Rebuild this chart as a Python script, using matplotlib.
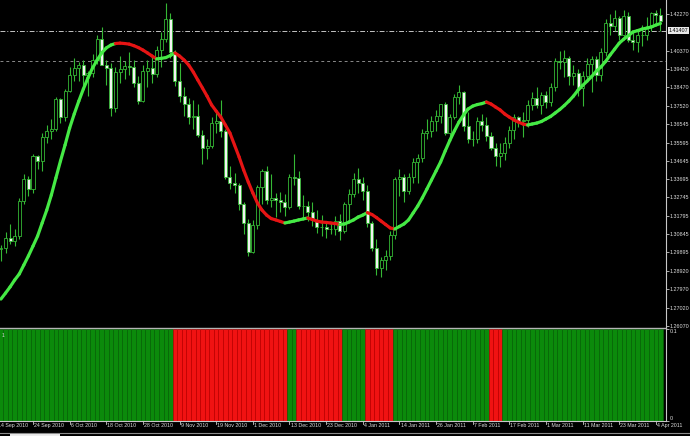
import matplotlib
matplotlib.use("Agg")
import matplotlib.pyplot as plt
import matplotlib.transforms as mtransforms
from matplotlib.collections import LineCollection
from matplotlib.patches import Rectangle
from matplotlib.lines import Line2D
import numpy as np

plt.rcParams['font.family'] = ['Liberation Sans', 'DejaVu Sans']

# ---------------- data (EURUSD daily, 15 Sep 2010 .. 5 Apr 2011) ----------------
OPEN = [1.3005,1.3010,1.3065,1.3050,1.3075,1.3255,1.3370,1.3320,1.3490,1.3465,
        1.3590,1.3620,1.3630,1.3785,1.3690,1.3830,1.3910,1.3945,1.3960,1.3910,
        1.3920,1.3990,1.4100,1.3965,1.3945,1.3740,1.3925,1.3940,1.3955,1.3950,
        1.3870,1.3775,1.3930,1.3945,1.3915,1.4040,1.4100,1.4200,1.4030,1.3880,
        1.3800,1.3760,1.3690,1.3700,1.3600,1.3530,1.3540,1.3660,1.3670,1.3620,
        1.3380,1.3350,1.3340,1.3240,1.3140,1.2990,1.3130,1.3330,1.3410,1.3260,
        1.3270,1.3260,1.3250,1.3225,1.3380,1.3375,1.3230,1.3230,1.3200,1.3160,
        1.3120,1.3120,1.3110,1.3110,1.3150,1.3100,1.3240,1.3290,1.3370,1.3350,
        1.3310,1.3140,1.3010,1.2910,1.2950,1.2970,1.3080,1.3370,1.3380,1.3310,
        1.3380,1.3460,1.3480,1.3610,1.3620,1.3670,1.3700,1.3760,1.3610,1.3695,
        1.3795,1.3820,1.3645,1.3580,1.3580,1.3670,1.3650,1.3595,1.3530,1.3490,
        1.3505,1.3560,1.3625,1.3695,1.3670,1.3675,1.3755,1.3790,1.3755,1.3805,
        1.3770,1.3850,1.3985,1.3980,1.4000,1.3905,1.3920,1.3845,1.3905,1.3970,
        1.3995,1.3910,1.4030,1.4180,1.4165,1.4205,1.4120,1.4215,1.4090,1.4080,
        1.4120,1.4120,1.4160,1.4230,1.4220]
HIGH = [1.3030,1.3095,1.3135,1.3110,1.3270,1.3395,1.3385,1.3500,1.3495,1.3610,
        1.3650,1.3680,1.3795,1.3790,1.3840,1.3950,1.4000,1.3980,1.3990,1.3930,
        1.4020,1.4120,1.4160,1.3990,1.3975,1.3950,1.4010,1.3985,1.4030,1.3990,
        1.3905,1.3960,1.3990,1.4010,1.4060,1.4135,1.4282,1.4230,1.4040,1.3975,
        1.3850,1.3790,1.3780,1.3760,1.3625,1.3580,1.3690,1.3720,1.3780,1.3630,
        1.3440,1.3400,1.3350,1.3250,1.3165,1.3160,1.3340,1.3420,1.3440,1.3395,
        1.3300,1.3305,1.3290,1.3395,1.3500,1.3410,1.3285,1.3255,1.3250,1.3210,
        1.3185,1.3150,1.3140,1.3180,1.3190,1.3250,1.3320,1.3400,1.3430,1.3380,
        1.3340,1.3150,1.3060,1.2965,1.3000,1.3100,1.3380,1.3420,1.3395,1.3400,
        1.3480,1.3500,1.3630,1.3680,1.3700,1.3730,1.3760,1.3770,1.3710,1.3810,
        1.3860,1.3830,1.3720,1.3620,1.3690,1.3710,1.3695,1.3615,1.3555,1.3560,
        1.3590,1.3645,1.3710,1.3700,1.3720,1.3780,1.3820,1.3850,1.3820,1.3830,
        1.3870,1.4000,1.4035,1.4040,1.4010,1.3960,1.3940,1.3930,1.4000,1.4010,
        1.4010,1.4050,1.4200,1.4225,1.4250,1.4215,1.4250,1.4240,1.4140,1.4150,
        1.4170,1.4210,1.4240,1.4250,1.4260]
LOW = [1.2945,1.2985,1.3035,1.3020,1.3060,1.3240,1.3280,1.3300,1.3420,1.3410,
       1.3560,1.3580,1.3620,1.3660,1.3670,1.3820,1.3880,1.3880,1.3855,1.3800,
       1.3900,1.3970,1.3960,1.3860,1.3700,1.3720,1.3870,1.3890,1.3910,1.3850,
       1.3760,1.3770,1.3850,1.3870,1.3900,1.3950,1.4080,1.4000,1.3855,1.3770,
       1.3700,1.3655,1.3630,1.3590,1.3450,1.3475,1.3530,1.3610,1.3590,1.3370,
       1.3320,1.3300,1.3210,1.3085,1.2970,1.2985,1.3110,1.3240,1.3240,1.3225,
       1.3175,1.3200,1.3180,1.3215,1.3340,1.3215,1.3170,1.3150,1.3125,1.3090,
       1.3075,1.3065,1.3085,1.3080,1.3055,1.3090,1.3150,1.3275,1.3300,1.3260,
       1.3120,1.2995,1.2870,1.2860,1.2900,1.2950,1.3060,1.3280,1.3250,1.3290,
       1.3350,1.3350,1.3460,1.3580,1.3590,1.3620,1.3660,1.3600,1.3580,1.3680,
       1.3760,1.3620,1.3560,1.3540,1.3560,1.3620,1.3570,1.3520,1.3440,1.3435,
       1.3470,1.3530,1.3580,1.3640,1.3590,1.3640,1.3730,1.3740,1.3710,1.3740,
       1.3750,1.3830,1.3940,1.3900,1.3860,1.3860,1.3800,1.3750,1.3890,1.3820,
       1.3880,1.3880,1.4010,1.4120,1.4140,1.4090,1.4100,1.4080,1.4040,1.4030,
       1.4060,1.4090,1.4140,1.4180,1.4140]
CLOSE = [1.3010,1.3065,1.3050,1.3075,1.3255,1.3370,1.3320,1.3490,1.3465,1.3590,
         1.3620,1.3630,1.3785,1.3690,1.3830,1.3910,1.3945,1.3960,1.3910,1.3920,
         1.3990,1.4100,1.3965,1.3945,1.3740,1.3925,1.3940,1.3955,1.3950,1.3870,
         1.3775,1.3930,1.3945,1.3915,1.4040,1.4100,1.4200,1.4030,1.3880,1.3800,
         1.3760,1.3690,1.3700,1.3600,1.3530,1.3540,1.3660,1.3670,1.3620,1.3380,
         1.3350,1.3340,1.3240,1.3140,1.2990,1.3130,1.3330,1.3410,1.3260,1.3270,
         1.3260,1.3250,1.3225,1.3380,1.3375,1.3230,1.3230,1.3200,1.3160,1.3120,
         1.3120,1.3110,1.3110,1.3150,1.3100,1.3240,1.3290,1.3370,1.3350,1.3310,
         1.3140,1.3010,1.2910,1.2950,1.2970,1.3080,1.3370,1.3380,1.3310,1.3380,
         1.3460,1.3480,1.3610,1.3620,1.3670,1.3700,1.3760,1.3610,1.3695,1.3795,
         1.3820,1.3645,1.3580,1.3580,1.3670,1.3650,1.3595,1.3530,1.3490,1.3505,
         1.3560,1.3625,1.3695,1.3670,1.3675,1.3755,1.3790,1.3755,1.3805,1.3770,
         1.3850,1.3985,1.3980,1.4000,1.3905,1.3920,1.3845,1.3905,1.3970,1.3995,
         1.3910,1.4030,1.4180,1.4165,1.4205,1.4120,1.4215,1.4090,1.4080,1.4120,
         1.4120,1.4160,1.4230,1.4220,1.4190]
MA = [1.2747,1.2778,1.2810,1.2846,1.2877,1.2924,1.2971,1.3022,1.3074,1.3142,
      1.3209,1.3287,1.3376,1.3464,1.3547,1.3635,1.3708,1.3775,1.3838,1.3895,
      1.3947,1.3988,1.4025,1.4051,1.4066,1.4074,1.4076,1.4074,1.4071,1.4063,
      1.4053,1.4040,1.4025,1.4009,1.3994,1.3997,1.4001,1.4012,1.4025,1.4009,
      1.3988,1.3962,1.3926,1.3884,1.3843,1.3801,1.3755,1.3723,1.3692,1.3651,
      1.3609,1.3547,1.3485,1.3417,1.3355,1.3298,1.3246,1.3209,1.3183,1.3165,
      1.3158,1.3150,1.3142,1.3147,1.3152,1.3158,1.3163,1.3168,1.3160,1.3152,
      1.3147,1.3145,1.3142,1.3139,1.3134,1.3137,1.3147,1.3158,1.3173,1.3183,
      1.3196,1.3186,1.3170,1.3152,1.3134,1.3116,1.3111,1.3124,1.3137,1.3158,
      1.3194,1.3230,1.3272,1.3318,1.3365,1.3412,1.3459,1.3516,1.3570,1.3620,
      1.3666,1.3703,1.3734,1.3749,1.3757,1.3762,1.3770,1.3760,1.3744,1.3729,
      1.3708,1.3692,1.3677,1.3666,1.3656,1.3651,1.3656,1.3661,1.3669,1.3682,
      1.3695,1.3713,1.3731,1.3752,1.3775,1.3801,1.3832,1.3856,1.3879,1.3903,
      1.3931,1.3952,1.3980,1.4014,1.4045,1.4076,1.4097,1.4115,1.4134,1.4141,
      1.4149,1.4154,1.4160,1.4170,1.4178]
# per-bar slope state of the moving average line (G = rising, R = falling)
MA_STATE = ("GGGGGGGGGG" "GGGGGGGGGG" "GGGGGGRRRR" "RRRRRGGGGR" "RRRRRRRRRR"
            "RRRRRRRRRR" "RRRGGGGGRR" "RRRRRGGGGG" "GRRRRRRGGG" "GGGGGGGGGG"
            "GGGGGGGRRR" "RRRRRRGGGG" "GGGGGGGGGG" "GGGGGGGGGG" "GGGGG")
# per-bar state of the lower histogram
HIST_STATE = ("GGGGGGGGGG" "GGGGGGGGGG" "GGGGGGGGGG" "GGGGGGGGRR" "RRRRRRRRRR"
              "RRRRRRRRRR" "RRRGGRRRRR" "RRRRRGGGGG" "RRRRRRGGGG" "GGGGGGGGGG"
              "GGGGGGGRRR" "GGGGGGGGGG" "GGGGGGGGGG" "GGGGGGGGGG" "GGGGG")
HIST_LEVEL = 0.1

DATE_LABELS = ["14 Sep 2010", "24 Sep 2010", "6 Oct 2010", "18 Oct 2010", "28 Oct 2010",
               "9 Nov 2010", "19 Nov 2010", "1 Dec 2010", "13 Dec 2010", "23 Dec 2010",
               "4 Jan 2011", "14 Jan 2011", "26 Jan 2011", "7 Feb 2011", "17 Feb 2011",
               "1 Mar 2011", "11 Mar 2011", "23 Mar 2011", "4 Apr 2011"]
DATE_IDX = [-1, 7, 15, 23, 31, 39, 47, 55, 63, 71, 79, 87, 95, 103, 111, 119, 127, 135, 143]

PRICE_TICKS = [1.42270, 1.40370, 1.39420, 1.38470, 1.37520, 1.36545, 1.35595, 1.34645,
               1.33695, 1.32745, 1.31795, 1.30845, 1.29895, 1.28920, 1.27970, 1.27020, 1.26070]
BID = 1.41407
LEVEL2 = 1.3985

# ---------------- styles ----------------
W, H = 690, 436
PLOT_R = 666
BAR_PX = 4.58
X0_PX = 0.94
CANDLE_GREEN = '#35b835'
MA_GREEN = '#45ea45'
MA_RED = '#e61414'
HG = '#0b8a0b'
HG_EDGE = '#086608'
HR = '#f01212'
HR_EDGE = '#c00000'
TXT = '#dedede'
AXC = '#c8c8c8'
FS = 3.9

fig = plt.figure(figsize=(W / 100, H / 100), dpi=100, facecolor='black')


def fx(px):
    return px / W


def fy(py):
    return 1 - py / H


ax = fig.add_axes([0, fy(327), fx(PLOT_R), 327 / H], facecolor='black')
ax2 = fig.add_axes([0, fy(421), fx(PLOT_R), (421 - 329) / H], facecolor='black')

n = len(CLOSE)
idx = np.arange(n)
xlim = (-X0_PX / BAR_PX, (PLOT_R - X0_PX) / BAR_PX)

o = np.array(OPEN)
c = np.array(CLOSE)

# candles
ax.vlines(idx, LOW, HIGH, color=CANDLE_GREEN, lw=0.8, zorder=2)
bull = c >= o
fills = np.where(bull, 'black', '#f2f2f2')
ax.bar(idx, np.abs(c - o), bottom=np.minimum(o, c), width=0.66, color=fills,
       edgecolor=CANDLE_GREEN, linewidth=0.6, zorder=3)

# horizontal levels
ax.axhline(BID, color='#c4c4c4', lw=0.7, ls=(0, (5, 2, 1, 2)), zorder=1)
ax.axhline(LEVEL2, color='#8a8a8a', lw=0.7, ls=(0, (3, 3)), zorder=1)

# coloured moving average
pts = np.column_stack([idx, MA])
segs = np.stack([pts[:-1], pts[1:]], axis=1)
cols = [MA_GREEN if s == 'G' else MA_RED for s in MA_STATE[1:]]
lc = LineCollection(segs, colors=cols, linewidths=2.3, capstyle='round', zorder=5)
ax.add_collection(lc)

ax.set_xlim(*xlim)
ax.set_ylim(1.26019, 1.4300)
ax.set_xticks([])
ax.yaxis.tick_right()
ax.set_yticks(PRICE_TICKS)
ax.set_yticklabels([f"{v:.5f}" for v in PRICE_TICKS])
ax.tick_params(axis='y', colors=AXC, labelcolor=TXT, labelsize=FS, length=2,
               width=0.6, pad=0.8, direction='out')
for s in ['left', 'top', 'bottom']:
    ax.spines[s].set_visible(False)
ax.spines['right'].set_color(AXC)
ax.spines['right'].set_linewidth(0.8)

trans_b = mtransforms.blended_transform_factory(ax.transAxes, ax.transData)
ax.text(1.004, BID, f"{BID:.5f}", transform=trans_b, ha='left', va='center',
        fontsize=FS, color='black', zorder=10, clip_on=False,
        bbox=dict(boxstyle='square,pad=0.15', fc='#e8e8e8', ec='none'))

# histogram
hcols = [HG if s == 'G' else HR for s in HIST_STATE]
hedge = [HG_EDGE if s == 'G' else HR_EDGE for s in HIST_STATE]
ax2.bar(idx, [HIST_LEVEL] * n, width=1.0, color=hcols, edgecolor=hedge, linewidth=0.4)
ax2.set_xlim(*xlim)
ax2.set_ylim(0, HIST_LEVEL)
ax2.set_xticks([])
ax2.yaxis.tick_right()
ax2.set_yticks([0, HIST_LEVEL])
ax2.set_yticklabels(["0", "0.1"])
ax2.tick_params(axis='y', colors=AXC, labelcolor=TXT, labelsize=FS, length=2,
                width=0.6, pad=0.8)
labs = ax2.get_yticklabels()
labs[0].set_va('bottom')
labs[1].set_va('top')
for s in ['left', 'top']:
    ax2.spines[s].set_visible(False)
for s in ['right', 'bottom']:
    ax2.spines[s].set_color(AXC)
    ax2.spines[s].set_linewidth(0.8)
ax2.text(0.003, 0.96, "1", transform=ax2.transAxes, ha='left', va='top',
         fontsize=3.6, color=TXT)

# date labels
trans_d = mtransforms.blended_transform_factory(ax2.transData, ax2.transAxes)
for i, lab in zip(DATE_IDX, DATE_LABELS):
    ax2.plot([i, i], [0, -0.03], transform=trans_d, color=AXC, lw=0.6, clip_on=False)
    ax2.text(i + 0.25, -0.02, lab, transform=trans_d, ha='left', va='top',
             fontsize=3.8, color=TXT, clip_on=False)

# pane separator and bottom tab bar
fig.add_artist(Line2D([0, fx(PLOT_R)], [fy(327.8), fy(327.8)], color='#b4b4b4', lw=1.0))
fig.add_artist(Line2D([0, 1], [fy(432.5), fy(432.5)], color='#8c8c8c', lw=0.8))
fig.add_artist(Rectangle((fx(10), 0), fx(50), 3 / H, transform=fig.transFigure,
                         facecolor='#ececec', edgecolor='none'))

fig.savefig("out.png", dpi=100, facecolor='black')
